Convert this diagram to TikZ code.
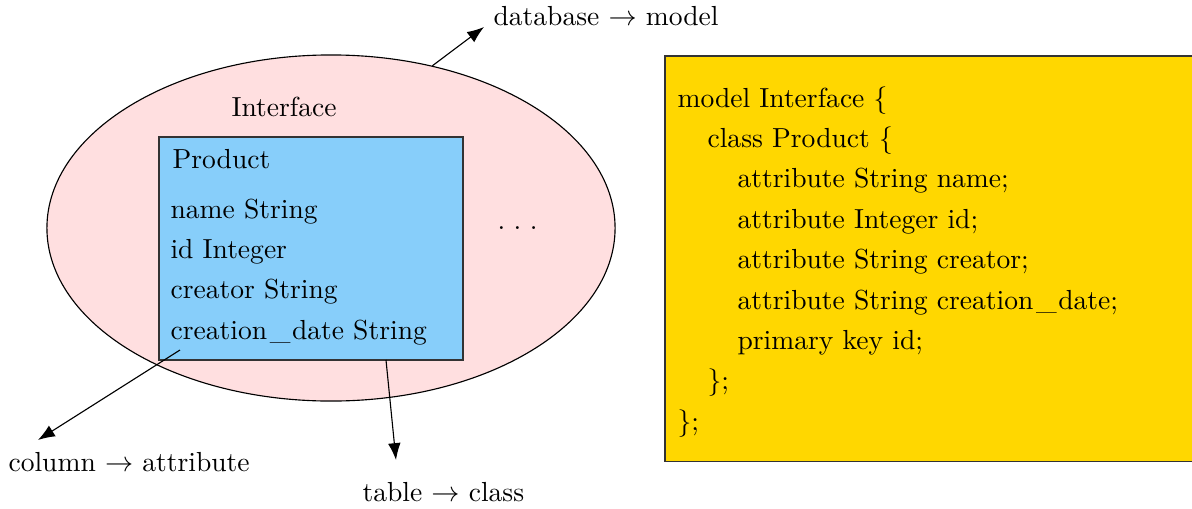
\documentclass[tikz,border=0pt]{standalone}
\usepackage{tikz}
\usepackage{xcolor}
\usetikzlibrary{arrows.meta, shapes.geometric, positioning}

\definecolor{ellpink}{RGB}{255,223,224}
\definecolor{prodblue}{RGB}{135,206,250}
\definecolor{codegold}{RGB}{255,215,0}
\newcommand{\usc}{\kern1pt\_\kern0.5pt}

\begin{document}
\begin{tikzpicture}[x=0.0125cm, y=-0.0125cm,
    txt/.style={anchor=base west, inner sep=0pt, font=\fontsize{9.8}{12}\selectfont},
    arr/.style={-{Latex[length=6pt, width=4.5pt]}}]
    \useasboundingbox (0, 0) rectangle (1192, 508);

    \node[ellipse, draw, fill=ellpink, minimum width=7.1cm, minimum height=4.325cm] (iface) at (331, 228) {};
    \node[draw=black!80, fill=prodblue, minimum width=3.8cm, minimum height=2.7875cm] (prod) at (311, 248.5) {};
    \node[draw=black!80, fill=codegold, minimum width=6.65cm, minimum height=5.0625cm] (code) at (931, 258.5) {};

    \node[txt] (ifacename) at (231, 116) {Interface};
    \node[txt] (prodname) at (172, 168) {Product};
    \node[txt] (a1) at (170, 218) {name String};
    \node[txt] (a2) at (170, 258) {id Integer};
    \node[txt] (a3) at (170, 298.5) {creator String};
    \node[txt] (a4) at (170, 339) {creation\usc date String};
    \node[txt] (dots) at (497, 229) {.\hspace{3pt}.\hspace{3pt}.};

    \node[txt] (l1) at (677, 107) {model Interface \{};
    \node[txt] (l2) at (707, 147.4) {class Product \{};
    \node[txt] (l3) at (737, 187.8) {attribute String name;};
    \node[txt] (l4) at (737, 228.2) {attribute Integer id;};
    \node[txt] (l5) at (737, 268.6) {attribute String creator;};
    \node[txt] (l6) at (737, 309) {attribute String creation\usc date;};
    \node[txt] (l7) at (737, 349.4) {primary key id;};
    \node[txt] (l8) at (707, 389.8) {\};};
    \node[txt] (l9) at (677, 430.2) {\};};

    \node[txt] (db) at (493, 25) {database $\rightarrow$ model};
    \node[txt] (col) at (8, 471) {column $\rightarrow$ attribute};
    \node[txt] (tab) at (362, 501) {table $\rightarrow$ class};

    \coordinate (dbtip) at (484, 27);
    \coordinate (colsrc) at (180, 350);
    \coordinate (coltip) at (38, 440);
    \coordinate (tabsrc) at (386, 360);
    \coordinate (tabtip) at (396, 460);

    \draw[arr] (iface.58) -- (dbtip);
    \draw[arr] (colsrc) -- (coltip);
    \draw[arr] (tabsrc) -- (tabtip);
\end{tikzpicture}
\end{document}
